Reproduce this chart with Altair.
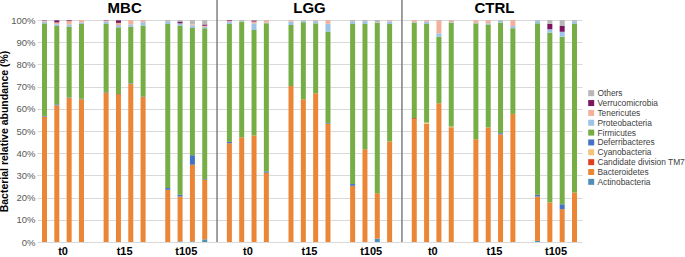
import altair as alt
import pandas as pd

groups = ["MBC", "LGG", "CTRL"]
times = ["t0", "t15", "t105"]

# stacking order (bottom -> top)
phyla = ["Actinobacteria", "Bacteroidetes", "Candidate division TM7", "Cyanobacteria",
         "Deferribacteres", "Firmicutes", "Proteobacteria", "Tenericutes",
         "Verrucomicrobia", "Others"]
phylum_colors = ["#4E8FB6", "#EA8636", "#E0401C", "#F5C27A", "#4472C4",
                 "#76AE45", "#9DC3E6", "#F4B09A", "#7B1560", "#B8B8B8"]

# 36 bars: MBC t0(4) t15(4) t105(4), LGG ..., CTRL ...
actinobacteria = [0, 0, 0, 0,  0, 0, 0, 0,  0, 0.3, 0.3, 1.2,
                  0, 0, 0, 0,  0, 0, 0, 0,  0, 0, 1.5, 0,
                  0, 0, 0, 0,  0, 0, 0, 0,  0.5, 0, 0, 0]
bacteroidetes = [56.5, 61.6, 65.0, 64.3,  67.3, 66.3, 71.3, 65.3,  23.5, 20.2, 34.5, 26.8,
                 44.5, 47.2, 48.0, 31.2,  70.3, 64.3, 67.0, 53.2,  25.3, 41.8, 20.5, 45.3,
                 55.2, 53.3, 62.5, 51.7,  46.3, 51.6, 48.5, 57.7,  20.0, 17.8, 14.8, 22.3]
tm7 = [0, 0, 0, 0,  0, 0.3, 0, 0,  0, 0, 0, 0,
       0, 0, 0, 0,  0, 0, 0, 0,  0, 0, 0, 0,
       0.6, 0, 0, 0,  0, 0, 0, 0,  0, 0, 0, 0]
cyanobacteria = [0, 0, 0, 0,  0, 0, 0, 0,  0, 0, 0, 0,
                 0, 0, 0, 0,  0, 0, 0, 0,  0, 0, 0, 0,
                 0, 0.5, 0, 0.3,  0, 0, 0, 0,  0, 0, 0, 0]
deferribacteres = [0.3, 0.4, 0.2, 0.2,  0.2, 0, 0.2, 0.2,  0.8, 0.8, 4.3, 0.3,
                   0.6, 0, 0, 0.6,  0, 0, 0, 0.3,  0.8, 0, 0, 0,
                   0, 0, 0, 0,  0, 0, 0.5, 0,  0.8, 0, 2.2, 0]
firmicutes = [41.7, 35.3, 31.8, 33.7,  30.7, 30.1, 25.5, 32.0,  73.9, 76.2, 57.3, 68.0,
              53.1, 52.1, 47.5, 66.7,  27.5, 34.7, 31.5, 41.3,  72.1, 56.4, 76.8, 52.9,
              43.0, 44.4, 30.0, 46.8,  52.2, 46.4, 49.8, 38.6,  77.2, 76.5, 75.5, 75.9]
proteobacteria = [0.8, 0.8, 1.0, 0.6,  1.0, 1.0, 1.0, 1.5,  1.0, 1.0, 1.1, 0.6,
                  1.0, 0.2, 3.0, 0.3,  1.5, 0.7, 1.0, 3.5,  1.0, 1.0, 0.2, 1.2,
                  0.3, 1.0, 1.5, 0.2,  0.2, 0.5, 1.0, 1.0,  1.2, 1.5, 2.2, 1.0]
tenericutes = [0.4, 0.8, 1.5, 1.1,  0.5, 1.0, 1.9, 0.9,  0, 0, 0.5, 0.5,
               0.3, 0.1, 0.8, 1.0,  0.6, 0.2, 0.4, 1.6,  0, 0, 0, 0.5,
               0.8, 0.6, 5.8, 0.8,  1.2, 1.4, 0.1, 2.6,  0, 0, 0, 0]
verrucomicrobia = [0.2, 1.0, 0.4, 0,  0.2, 1.2, 0, 0,  0, 0.8, 0, 0.6,
                   0.4, 0, 0.5, 0,  0, 0, 0, 0,  0, 0, 0, 0,
                   0, 0, 0, 0,  0, 0, 0, 0,  0, 2.5, 2.6, 0]
others = [0.1, 0.1, 0.1, 0.1,  0.1, 0.1, 0.1, 0.1,  0.8, 0.7, 2.0, 2.0,
          0.1, 0.4, 0.2, 0.2,  0.1, 0.1, 0.1, 0.1,  0.8, 0.8, 1.0, 0.1,
          0.1, 0.2, 0.2, 0.2,  0.1, 0.1, 0.1, 0.1,  0.3, 1.7, 2.7, 0.8]

series = [actinobacteria, bacteroidetes, tm7, cyanobacteria, deferribacteres,
          firmicutes, proteobacteria, tenericutes, verrucomicrobia, others]

# slot domain (bars, gaps between times, separators between groups)
slot_order = []
bar_slots = []
for gi, g in enumerate(groups):
    if gi > 0:
        slot_order.append(f"sep{gi}")
    for ti, t in enumerate(times):
        if ti > 0:
            slot_order.append(f"{g}-gap{ti}")
        for b in range(1, 5):
            s = f"{g}-{t}-{b}"
            slot_order.append(s)
            bar_slots.append(s)

rows = []
for i, s in enumerate(bar_slots):
    for k, (name, vals) in enumerate(zip(phyla, series)):
        rows.append({"slot": s, "phylum": name, "value": vals[i], "k": k})
bars_df = pd.DataFrame(rows)

time_labels = pd.DataFrame([{"slot": f"{g}-{t}-2", "label": t} for g in groups for t in times])
group_labels = pd.DataFrame([{"slot": f"{g}-t15-2", "label": g} for g in groups])
sep_df = pd.DataFrame([{"slot": "sep1"}, {"slot": "sep2"}])

W, H = 545, 222
FONT = "Liberation Sans"
xscale = alt.Scale(domain=slot_order, paddingInner=0, paddingOuter=0.108)
xenc = alt.X("slot:N", scale=xscale, axis=None, sort=slot_order)

legend_domain = list(reversed(phyla))
legend_range = list(reversed(phylum_colors))

bars = alt.Chart(bars_df).mark_bar(width=5).encode(
    x=xenc,
    y=alt.Y("value:Q", stack="zero",
            scale=alt.Scale(domain=[0, 100], nice=False),
            axis=alt.Axis(values=list(range(0, 101, 10)),
                          labelExpr="datum.value + '%'",
                          title="Bacterial relative abundance (%)",
                          titleFont=FONT, titleFontSize=10.5, titleFontWeight="bold",
                          titleColor="#000000", titlePadding=1,
                          labelFont=FONT, labelFontSize=9.5, labelColor="#595959",
                          labelPadding=2, ticks=False, domain=False,
                          grid=True, gridColor="#D9D9D9", gridWidth=1)),
    color=alt.Color("phylum:N",
                    scale=alt.Scale(domain=legend_domain, range=legend_range),
                    sort=legend_domain,
                    legend=alt.Legend(title=None, orient="none", legendX=550, legendY=69,
                                      symbolType="square", symbolSize=36,
                                      symbolStrokeWidth=0,
                                      labelFont=FONT, labelFontSize=8.4,
                                      labelColor="#404040", rowPadding=0.85,
                                      labelOffset=2, labelLimit=200)),
    order=alt.Order("k:Q", sort="ascending"),
)

seps = alt.Chart(sep_df).mark_rule(color="#7F7F7F", strokeWidth=1.5).encode(
    x=xenc, y=alt.value(-20), y2=alt.value(H)
)

tlabels = alt.Chart(time_labels).mark_text(
    font=FONT, fontSize=11, fontWeight="bold", color="#000000", dx=6.2, baseline="middle"
).encode(x=xenc, y=alt.value(H + 10), text="label:N")

glabels = alt.Chart(group_labels).mark_text(
    font=FONT, fontSize=15, fontWeight="bold", color="#000000", dx=6.2, baseline="alphabetic"
).encode(x=xenc, y=alt.value(-7), text="label:N")

chart = alt.layer(bars, seps, tlabels, glabels).properties(
    width=W, height=H,
    autosize=alt.AutoSizeParams(type="none"),
    padding={"left": 37, "top": 20, "right": 103, "bottom": 15},
).configure_view(stroke=None)

chart.save("out.html", embed_options={"renderer": "svg", "actions": False})
